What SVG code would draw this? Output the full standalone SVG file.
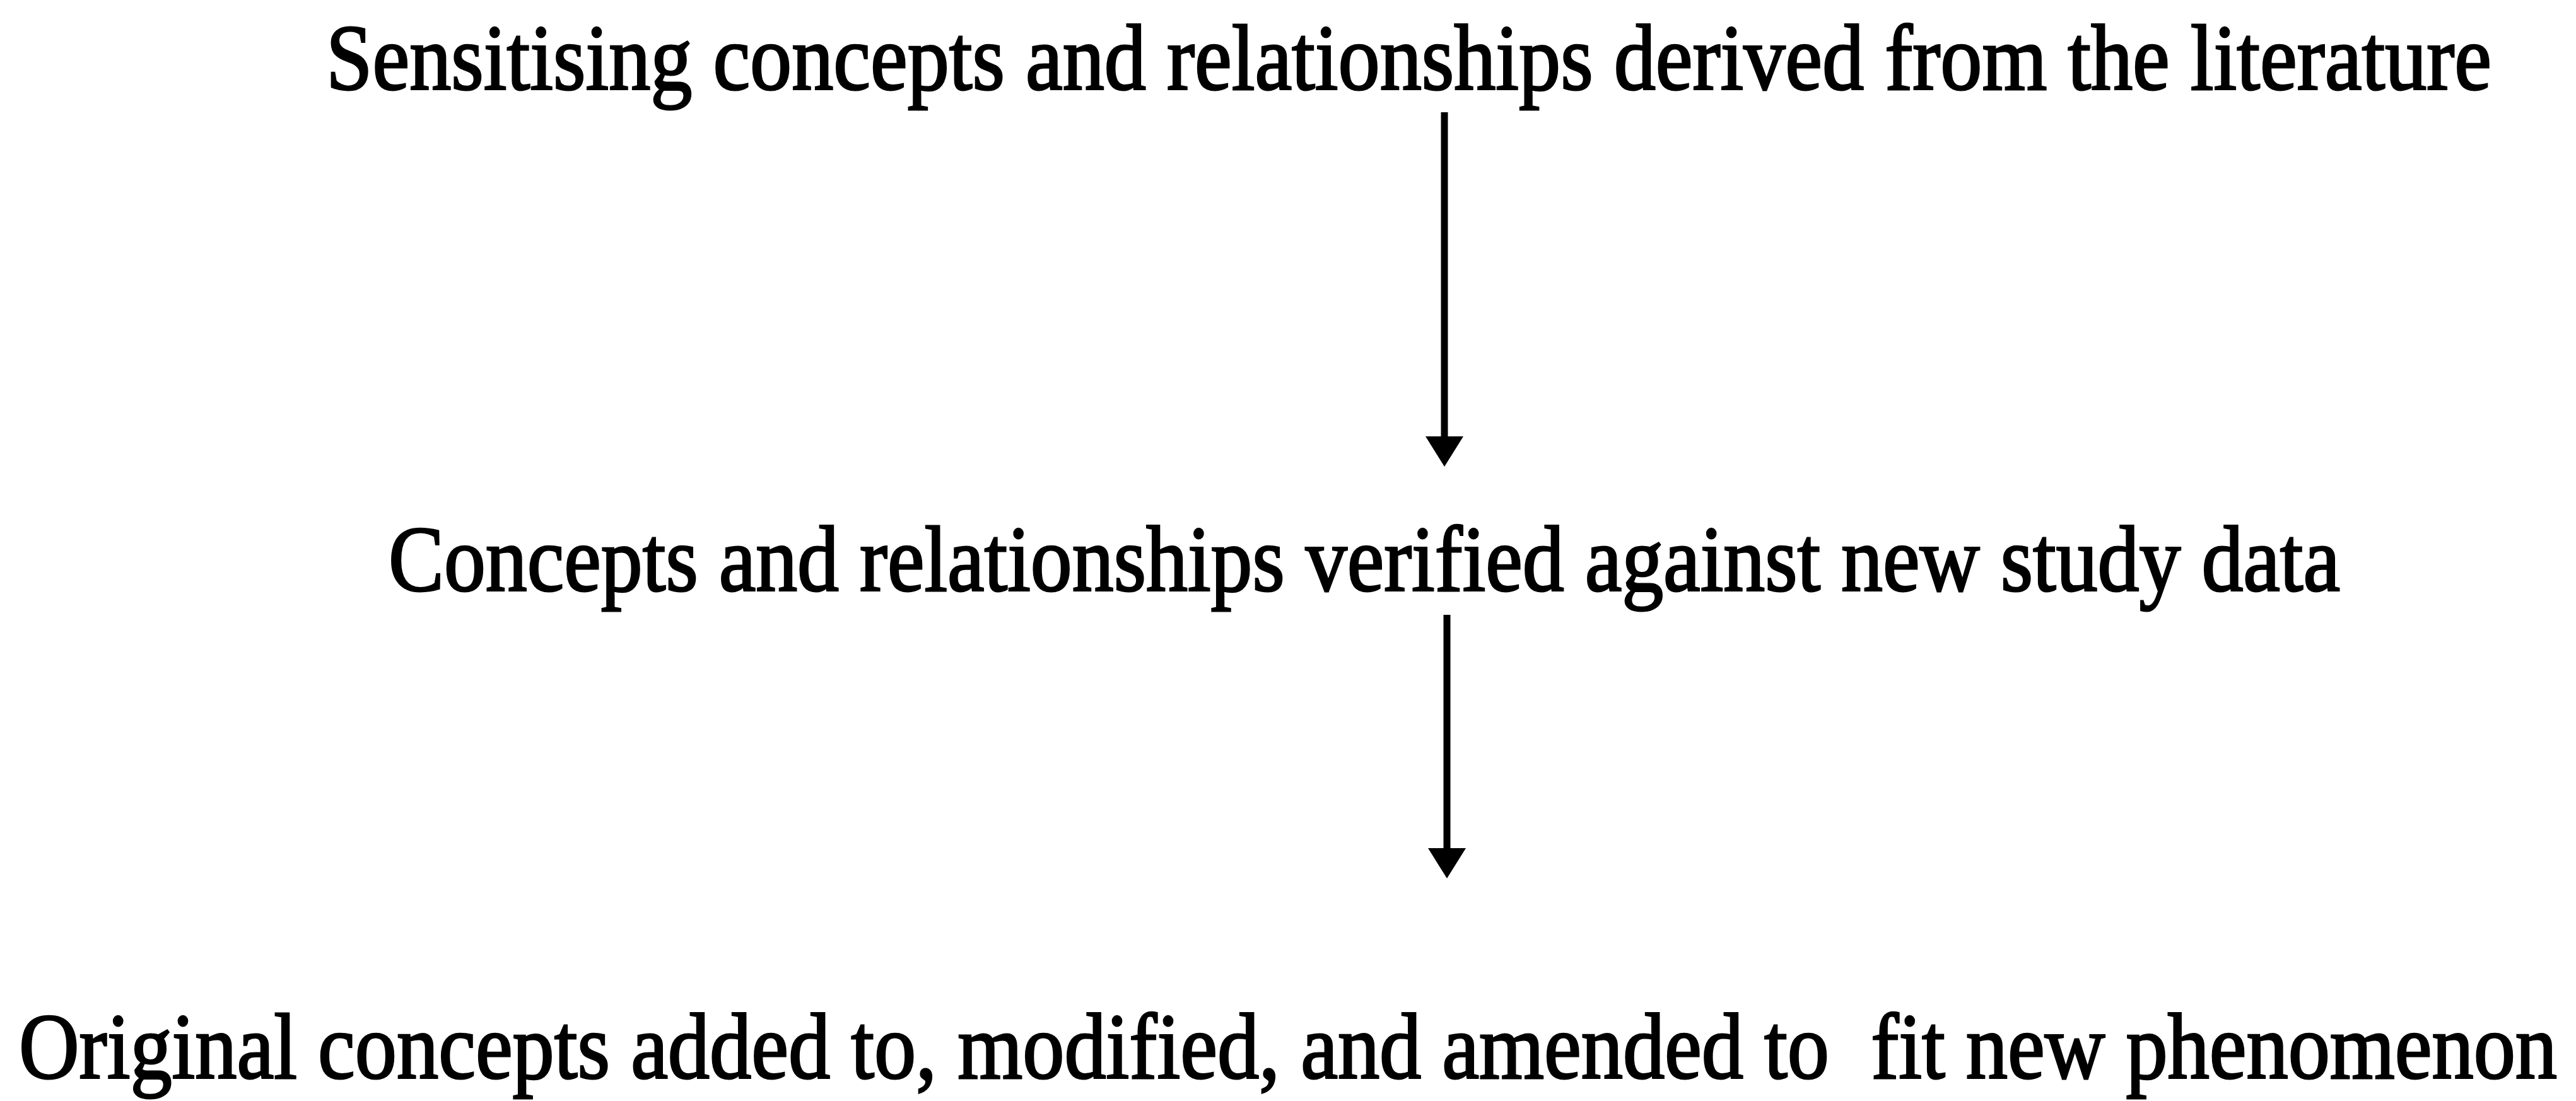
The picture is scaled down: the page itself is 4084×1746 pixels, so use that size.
<svg xmlns="http://www.w3.org/2000/svg" width="4084" height="1746" viewBox="0 0 4084 1746">
<style>
  .t { font-family: "Liberation Serif", "Times New Roman", serif; font-size: 148px; fill: #000; stroke: #000; stroke-width: 3; white-space: pre; }
  .c { stroke: #000; stroke-width: 11; fill: none; }
</style>
<defs>
  <marker id="ah" markerUnits="userSpaceOnUse" markerWidth="50" markerHeight="60" viewBox="0 0 50 60" refX="2" refY="30" orient="auto">
    <path d="M0,0 L48,30 L0,60 Z" fill="#000"/>
  </marker>
</defs>
<rect width="4084" height="1746" fill="#fff"/>
<g id="node-literature">
  <text class="t" x="517" y="142" textLength="3433" lengthAdjust="spacingAndGlyphs">Sensitising concepts and relationships derived from the literature</text>
</g>
<g id="node-verified">
  <text class="t" x="616" y="937" textLength="3094" lengthAdjust="spacingAndGlyphs">Concepts and relationships verified against new study data</text>
</g>
<g id="node-original">
  <text class="t" x="30" y="1710" textLength="4024" lengthAdjust="spacingAndGlyphs" xml:space="preserve">Original concepts added to, modified, and amended to  fit new phenomenon</text>
</g>
<g id="connectors">
  <line class="c" x1="2290" y1="178" x2="2290" y2="694" marker-end="url(#ah)"/>
  <line class="c" x1="2294" y1="975" x2="2294" y2="1347" marker-end="url(#ah)"/>
</g>
</svg>
